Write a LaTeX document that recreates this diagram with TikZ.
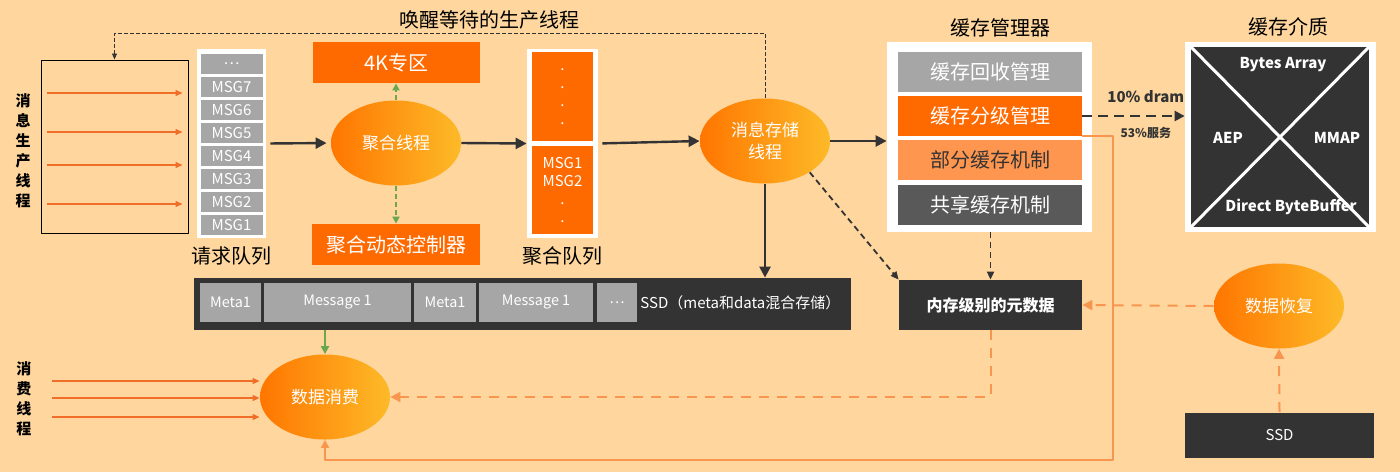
\documentclass[tikz,border=0pt]{standalone}
\usepackage{fontspec}
\setmainfont{Noto Sans CJK SC}
\usetikzlibrary{arrows.meta,shapes.geometric,positioning}
\definecolor{pagebg}{RGB}{254,214,158}
\definecolor{inkgray}{RGB}{51,51,51}
\definecolor{cellgray}{RGB}{166,166,166}
\definecolor{midgray}{RGB}{89,89,89}
\definecolor{hotorange}{RGB}{255,106,0}
\definecolor{softorange}{RGB}{255,150,80}
\definecolor{lineorange}{RGB}{240,110,40}
\definecolor{paleorange}{RGB}{248,150,80}
\definecolor{flowgreen}{RGB}{106,168,79}
\definecolor{shadeleft}{RGB}{255,118,0}
\definecolor{shaderight}{RGB}{253,186,40}

\begin{document}
\begin{tikzpicture}[x=0.5pt,y=-0.5pt,line join=round,
 every node/.style={inner sep=0pt},
 heading/.style={font=\fontsize{10}{12}\selectfont},
 vlabel/.style={align=center,font=\bfseries\fontsize{7.5}{10}\selectfont},
 thread/.style={ellipse,minimum width=65pt,minimum height=42.5pt,left color=shadeleft,right color=shaderight,
  text=white,align=center,font=\fontsize{8.5}{11}\selectfont},
 orangebox/.style={fill=hotorange,text=white,minimum width=84pt,minimum height=20.5pt,font=\fontsize{10}{12}\selectfont},
 qcell/.style={fill=cellgray,text=white,minimum width=31pt,minimum height=10pt,font=\fontsize{7.5}{9}\selectfont},
 mcell/.style={fill=cellgray,text=white,minimum height=19.5pt,font=\fontsize{7.2}{9}\selectfont},
 cachecell/.style={minimum width=92pt,minimum height=20pt,font=\fontsize{10}{12}\selectfont},
 inkbox/.style={fill=inkgray,text=white,font=\fontsize{7.5}{9}\selectfont},
 medtext/.style={text=white,font=\bfseries\fontsize{7.5}{9}\selectfont},
 flow/.style={-{Triangle[length=5.5pt,width=5.5pt]},inkgray,line width=1.2pt},
 prodflow/.style={-{Triangle[length=3.5pt,width=3pt]},lineorange,line width=0.7pt},
 greenflow/.style={-{Triangle[length=3.5pt,width=3.5pt]},flowgreen,line width=0.9pt,dash pattern=on 2.5pt off 1.5pt},
 wakeline/.style={-{Triangle[length=3pt,width=2.5pt]},inkgray,line width=0.4pt,dash pattern=on 2pt off 1pt},
 darkdash/.style={-{Triangle[length=4pt,width=3.5pt]},inkgray,line width=0.9pt,dash pattern=on 3pt off 2pt},
 dramflow/.style={-{Triangle[length=5pt,width=5pt]},inkgray,line width=1.2pt,dash pattern=on 5pt off 3pt},
 recflow/.style={-{Triangle[length=5pt,width=5pt]},paleorange,line width=1pt,dash pattern=on 5pt off 4pt},
 backflow/.style={-{Triangle[length=4pt,width=4pt]},paleorange,line width=1pt}]
\fill[pagebg] (0,0) rectangle (1400,472);
\useasboundingbox (0,0) rectangle (1400,472);
% 生产端
\node[heading] (wake) at (489,20) {唤醒等待的生产线程};
\node[draw=black,line width=0.5pt,minimum width=73.5pt,minimum height=86.5pt] (prod) at (114.5,146.5) {};
\node[vlabel] (plbl) at (23,151) {消\\息\\生\\产\\线\\程};
\foreach \y in {93,132,165,204}
 \draw[prodflow,shorten <=3pt,shorten >=3pt] (prod.west |- 0,\y) -- (prod.east |- 0,\y);
\node[fill=white,minimum width=34.5pt,minimum height=94.5pt] (reqq) at (231.5,143.5) {};
\foreach \lbl [count=\i from 0] in {\ldots,MSG7,MSG6,MSG5,MSG4,MSG3,MSG2,MSG1}
 \node[qcell] (rq\i) at (231.5,63.5+23*\i) {\lbl};
\node[heading,below=4pt of reqq] (rqlbl) {请求队列};
\node[orangebox,minimum width=83.5pt] (k4) at (396.5,62.5) {4K专区};
\node[thread] (agg) at (396,143) {聚合线程};
\node[orangebox] (ctrl) at (396,244.5) {聚合动态控制器};
\draw[greenflow] (agg.north) -- (agg.north |- k4.south);
\draw[greenflow] (agg.south) -- (agg.south |- ctrl.north);
\draw[flow,shorten <=2pt,shorten >=2pt] (reqq.east) -- (agg.west);
\node[fill=white,minimum width=35.5pt,minimum height=94.5pt] (aggq) at (562.5,143.5) {};
\node[fill=hotorange,text=white,minimum width=30.5pt,minimum height=44.5pt,align=center,
 font=\fontsize{7.5}{9}\selectfont] (aqtop) at (562.5,96.5) {.\\.\\.\\.};
\node[fill=hotorange,text=white,minimum width=30.5pt,minimum height=44pt,align=center,
 font=\fontsize{7.5}{9}\selectfont] (aqbot) at (562.5,190) {MSG1\\MSG2\\.\\.};
\node[heading,below=4pt of aggq] (aqlbl) {聚合队列};
\draw[flow] (agg.east) -- (aggq.west);
\node[thread] (store) at (765,141) {消息存储\\线程};
\draw[flow,shorten <=2pt] (aggq.east) -- (store.west);
\draw[wakeline] (store.north) -- ++(0,-65) -| (prod.north);
% 缓存
\node[heading] (cmtitle) at (1000,28) {缓存管理器};
\node[fill=white,minimum width=102.5pt,minimum height=95pt] (cmgr) at (989.5,137) {};
\node[cachecell,fill=cellgray,text=white] (recyc) at (990,72) {缓存回收管理};
\node[cachecell,fill=hotorange,text=white] (tier) at (990,116) {缓存分级管理};
\node[cachecell,fill=softorange,text=inkgray] (part) at (990,160) {部分缓存机制};
\node[cachecell,fill=midgray,text=white] (share) at (990,204.5) {共享缓存机制};
\draw[flow] (store.east) -- (store.east -| cmgr.west);
\node[heading] (medtitle) at (1288,27) {缓存介质};
\node[fill=white,minimum width=95.5pt,minimum height=95pt] (med) at (1280.5,137) {};
\node[fill=inkgray,minimum width=89pt,minimum height=90pt] (medin) at (1280,137) {};
\draw[white,line width=1.5pt] (medin.north west) -- (medin.south east)
 (medin.north east) -- (medin.south west);
\node[medtext] (bytes) at (1283,65) {Bytes Array};
\node[medtext] (aep) at (1228,138) {AEP};
\node[medtext] (mmap) at (1337,138) {MMAP};
\node[medtext] (direct) at (1291,207) {Direct ByteBuffer};
\draw[dramflow] (tier.east) -- (tier.east -| med.west)
 node[pos=0.62,above=6pt,font=\bfseries\fontsize{7.5}{9}\selectfont] {10\% dram}
 node[pos=0.62,below=5pt,font=\bfseries\fontsize{6}{8}\selectfont] {53\%服务};
\node[inkbox,minimum width=91.5pt,minimum height=25pt,font=\bfseries\fontsize{8}{10}\selectfont] (meta) at (990.5,305) {内存级别的元数据};
\draw[darkdash] (cmgr.south -| meta.north) -- (meta.north);
\draw[darkdash] (store.-35) -- (meta.north west);
% SSD 与消费
\node[inkbox,minimum width=328.5pt,minimum height=26pt] (ssd) at (522.5,304) {};
\node[mcell,minimum width=30.5pt] (meta1a) at (230.5,302.5) {Meta1};
\node[mcell,minimum width=73.5pt] (msg1a) at (337.5,302.5) {Message 1};
\node[mcell,minimum width=31pt] (meta1b) at (445,302.5) {Meta1};
\node[mcell,minimum width=57pt] (msg1b) at (536,302.5) {Message 1};
\node[mcell,minimum width=20pt] (more) at (617,302.5) {\ldots};
\node[anchor=west,text=white,font=\fontsize{7.5}{9}\selectfont] (ssdtext) at (640,303) {SSD（meta和data混合存储）};
\draw[flow] (store.south) -- (store.south |- ssd.north);
\node[thread] (cons) at (325,397) {数据消费};
\draw[-{Triangle[length=4pt,width=4pt]},flowgreen,line width=1pt] (ssd.south -| cons.north) -- (cons.north);
\node[vlabel] (clbl) at (24,399) {消\\费\\线\\程};
\coordinate (cstart) at (52,398);
\foreach \y in {381,398,417}
 \draw[prodflow] (cstart |- 0,\y) -- (cons.west |- 0,\y);
\node[thread] (rec) at (1279,306) {数据恢复};
\node[inkbox,minimum width=94.5pt,minimum height=22.5pt] (ssd2) at (1279.5,435) {SSD};
\draw[recflow] (ssd2.north) -- (rec.south);
\draw[recflow] (rec.west) -- (meta.east);
\draw[recflow] (meta.south) |- (cons.east);
\coordinate (loop) at (1113,460);
\draw[backflow] (tier.south east) -| (loop) -| (cons.south);
\end{tikzpicture}
\end{document}
